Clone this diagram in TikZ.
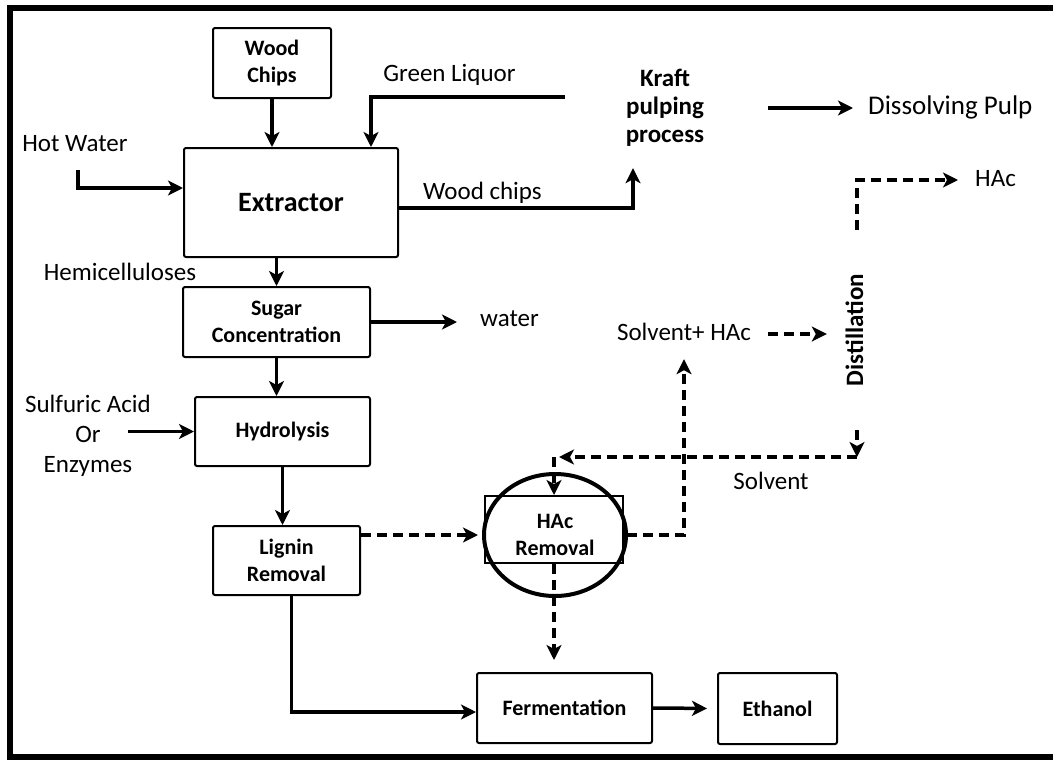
\documentclass[tikz,border=0pt]{standalone}
\usepackage{fontspec}
\setmainfont{Carlito}
\usetikzlibrary{arrows.meta,shapes.geometric}

\tikzset{
  unit/.style={draw, line width=2pt, rounded corners=2pt, align=center,
    font=\bfseries\fontsize{22}{27}\selectfont},
  lbl/.style={inner sep=0pt, text height=17pt, text depth=5pt,
    font=\fontsize{25}{30}\selectfont},
  lbls/.style={inner sep=0pt, align=center, font=\fontsize{25}{30}\selectfont},
  flow/.style={line width=3.5pt, -{Stealth[length=15pt,width=15pt,inset=4pt]}},
  dflow/.style={flow, dash pattern=on 10pt off 6pt},
}

\begin{document}
\begin{tikzpicture}[x=1pt,y=-1pt]
  \useasboundingbox (0,0) rectangle (1053,761);
  % frame
  \draw[line width=6pt] (1070,8) -- (10,8) -- (10,757) -- (1070,757);

  % units
  \node[unit, minimum width=118pt, minimum height=70pt] (woodchips) at (272,63) {Wood\\Chips};
  \node[unit, font=\bfseries\fontsize{28}{30}\selectfont, minimum width=214pt, minimum height=109pt] (extractor) at (291,202.5) {Extractor};
  \node[unit, minimum width=187pt, minimum height=70pt] (sugar) at (276.5,322) {Sugar\\Concentration};
  \node[unit, minimum width=175pt, minimum height=69pt] (hydro) at (282.5,431.5) {Hydrolysis};
  \node[unit, minimum width=147pt, minimum height=69pt] (lignin) at (286.5,560.5) {Lignin\\Removal};
  \node[unit, draw=none, ellipse, minimum width=142pt, minimum height=122pt] (hacell) at (555,535) {HAc\\Removal};
  \draw[line width=4pt] (hacell.center) ellipse [x radius=71pt, y radius=61pt];
  \node[draw, line width=2pt, minimum width=138pt, minimum height=67pt] (hacbox) at (554,529.5) {};
  \node[unit, minimum width=175pt, minimum height=70pt] (ferm) at (564.5,708) {Fermentation};
  \node[unit, minimum width=119pt, minimum height=71pt] (ethanol) at (777.5,708.5) {Ethanol};

  % labels
  \node[lbl] (hotwater) at (75,145) {Hot Water};
  \node[lbl] (greenliq) at (449.5,75) {Green Liquor};
  \node[lbl] (chipslbl) at (482.5,193) {Wood chips};
  \node[lbls, font=\bfseries\fontsize{25}{28}\selectfont, minimum width=206pt, minimum height=120pt] (kraft) at (665,108) {Kraft\\pulping\\process};
  \node[lbl, font=\fontsize{27}{30}\selectfont, anchor=west] (pulp) at (868,108) {Dissolving Pulp};
  \node[lbl, anchor=west] (haclbl) at (975,180) {HAc};
  \node[lbl] (hemi) at (120,274) {Hemicelluloses};
  \node[lbl, anchor=west] (water) at (480,320) {water};
  \node[lbls] (sulf) at (88,436) {Sulfuric Acid\\Or\\Enzymes};
  \node[lbl] (solhac) at (684,334) {Solvent+ HAc};
  \node[lbl, font=\bfseries\fontsize{25}{30}\selectfont, rotate=90, minimum width=200pt] (distill) at (857,330) {Distillation};
  \node[lbl] (solvent) at (771,483) {Solvent};

  \coordinate (hwsrc) at (78,170);
  \coordinate (glsrc) at (565,97);
  \coordinate (sret) at (857,457);

  % solid streams
  \draw[flow] (hwsrc) |- ([yshift=14.5pt]extractor.west);
  \draw[flow] (woodchips.south) -- (woodchips.south |- extractor.north);
  \draw[flow] (glsrc) -| ([xshift=80pt]extractor.north);
  \draw[flow] ([yshift=-5.5pt]extractor.east) -| ([xshift=-32pt]kraft.south);
  \draw[flow] (kraft.east) -- ([xshift=-15pt]pulp.west);
  \draw[flow] (extractor.south -| sugar.north) -- (sugar.north);
  \draw[flow] (sugar.east) -- ([xshift=-23pt]water.west |- sugar.east);
  \draw[flow] (sugar.south) -- (sugar.south |- hydro.north);
  \draw[flow] ([xshift=40pt]hydro.west -| sulf.center) -- (hydro.west);
  \draw[flow] (hydro.south) -- (hydro.south |- lignin.north);
  \draw[flow] ([xshift=5pt]lignin.south) |- ([yshift=-4pt]ferm.west);
  \draw[flow, shorten >=10pt] (ferm.east) -- (ethanol.west);

  % acetic acid recovery
  \draw[dflow] ([yshift=25.5pt]lignin.east) -- ([xshift=-5pt]hacell.west);
  \draw[dflow] (hacell.east) -| ([yshift=-14pt]solhac.south);
  \draw[dflow] ([xshift=17pt]solhac.east) -- ([xshift=-19pt]solhac.east -| distill.north);
  \draw[dflow] (distill.east) |- ([xshift=-17pt]haclbl.west);
  \draw[dflow] (distill.west) -- (sret);
  \draw[dflow, shorten >=5pt] (sret) -- (sret -| hacbox.north);
  \draw[dflow] (sret -| hacbox.north) -- (hacbox.north);
  \draw[dflow, shorten >=12pt] (hacbox.south) -- (hacbox.south |- ferm.north);
\end{tikzpicture}
\end{document}
